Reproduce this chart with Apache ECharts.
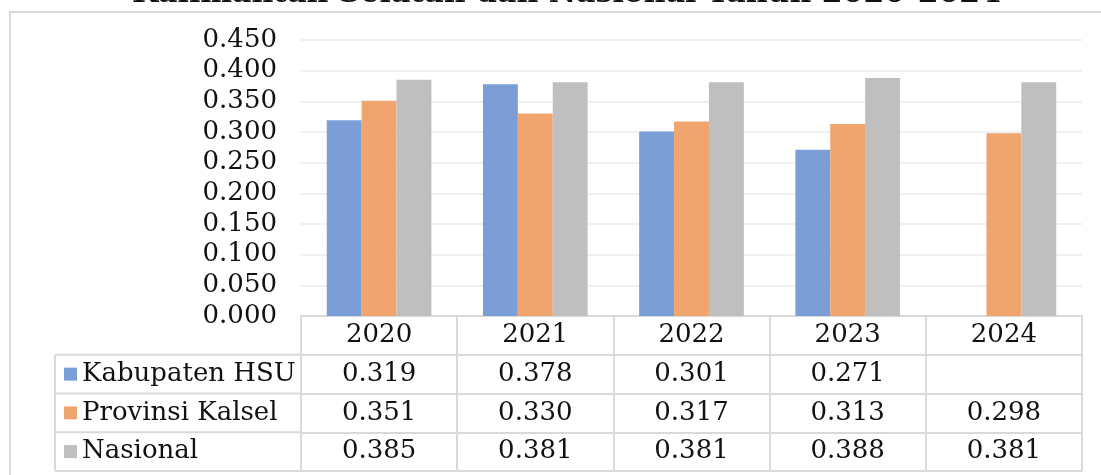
<!DOCTYPE html>
<html>
<head>
<meta charset="utf-8">
<script src="https://cdn.jsdelivr.net/npm/echarts@6/dist/echarts.min.js"></script>
<style>
html,body{margin:0;padding:0;background:#fff;}
#chart{width:1101px;height:475px;}
</style>
</head>
<body>
<div id="chart"></div>
<script>
const years = ['2020', '2021', '2022', '2023', '2024'];
const kabupatenHSU = [0.319, 0.378, 0.301, 0.271, null];
const provinsiKalsel = [0.351, 0.330, 0.317, 0.313, 0.298];
const nasional = [0.385, 0.381, 0.381, 0.388, 0.381];
const seriesNames = ['Kabupaten HSU', 'Provinsi Kalsel', 'Nasional'];
const titleText = 'Kalimantan Selatan dan Nasional Tahun 2020-2024';

const FONT = 'DejaVu Serif';
const FS = 26;
const colors = ['#7B9ED7', '#F0A46E', '#BFBFBF'];
const lineColor = '#D9D9D9';

const gridLeft = 301, gridRight = 19, gridTop = 40, gridBottomY = 316;
const rowH = 38.75;
const tableLeft = 55;

function fmt(v) { return (v === null || v === undefined) ? '' : v.toFixed(3); }

const rowsData = [kabupatenHSU, provinsiKalsel, nasional];

const chart = echarts.init(document.getElementById('chart'));

const labelMargin = (rowH - FS) / 2;
const xAxes = [{
  type: 'category', data: years, position: 'bottom', gridIndex: 0,
  axisLine: { show: true, lineStyle: { color: lineColor, width: 2 } },
  axisTick: { show: true, length: rowH, lineStyle: { color: lineColor, width: 2 } },
  axisLabel: { fontFamily: FONT, fontSize: FS, color: '#111', margin: labelMargin, lineHeight: FS },
  splitLine: { show: false }
}];
rowsData.forEach((arr, i) => {
  xAxes.push({
    type: 'category', data: years, position: 'bottom', gridIndex: 0,
    offset: rowH * (i + 1),
    axisLine: { show: true, lineStyle: { color: lineColor, width: 2 } },
    axisTick: { show: true, length: rowH, lineStyle: { color: lineColor, width: 2 } },
    axisLabel: { fontFamily: FONT, fontSize: FS, color: '#111', margin: labelMargin, lineHeight: FS,
      formatter: (val, idx) => fmt(arr[idx]) },
    splitLine: { show: false }
  });
});
xAxes.push({
  type: 'category', data: years, position: 'bottom', gridIndex: 0,
  offset: rowH * 4,
  axisLine: { show: true, lineStyle: { color: lineColor, width: 2 } },
  axisTick: { show: false }, axisLabel: { show: false }, splitLine: { show: false }
});

const graphics = [
  { type: 'rect', z: -10, shape: { x: 10, y: 12, width: 1200, height: 600 },
    style: { fill: 'none', stroke: lineColor, lineWidth: 2 } },
  { type: 'line', shape: { x1: tableLeft, y1: gridBottomY + rowH, x2: tableLeft, y2: gridBottomY + rowH * 4 },
    style: { stroke: lineColor, lineWidth: 2 } }
];
for (let i = 1; i <= 4; i++) {
  graphics.push({ type: 'line', shape: { x1: tableLeft, y1: gridBottomY + rowH * i, x2: gridLeft, y2: gridBottomY + rowH * i },
    style: { stroke: lineColor, lineWidth: 2 } });
}
graphics.push({ type: 'text', left: 132, top: -21,
  style: { text: titleText, font: 'bold 30px "DejaVu Serif"', fill: '#111' } });

const option = {
  animation: false,
  backgroundColor: '#fff',
  color: colors,
  grid: { left: gridLeft, right: gridRight, top: gridTop, height: gridBottomY - gridTop, containLabel: false },
  legend: {
    orient: 'vertical', left: 64, top: gridBottomY + rowH + (rowH - FS) / 2, padding: 0,
    itemGap: rowH - FS, itemWidth: 13, itemHeight: 13, icon: 'rect', selectedMode: false,
    textStyle: { fontFamily: FONT, fontSize: FS, color: '#111', lineHeight: FS, padding: [0, 0, 0, 0] },
    data: seriesNames
  },
  xAxis: xAxes,
  yAxis: {
    type: 'value', min: 0, max: 0.45, interval: 0.05,
    axisLine: { show: false }, axisTick: { show: false },
    axisLabel: { fontFamily: FONT, fontSize: FS, color: '#111', margin: 24, formatter: v => v.toFixed(3) },
    splitLine: { lineStyle: { color: '#EBEBEB', width: 1.5 } }
  },
  series: [
    { name: seriesNames[0], type: 'bar', data: kabupatenHSU, barGap: '0%', barCategoryGap: '33%', xAxisIndex: 0 },
    { name: seriesNames[1], type: 'bar', data: provinsiKalsel, barGap: '0%', barCategoryGap: '33%', xAxisIndex: 0 },
    { name: seriesNames[2], type: 'bar', data: nasional, barGap: '0%', barCategoryGap: '33%', xAxisIndex: 0 }
  ],
  graphic: graphics
};
chart.setOption(option);
</script>
</body>
</html>
